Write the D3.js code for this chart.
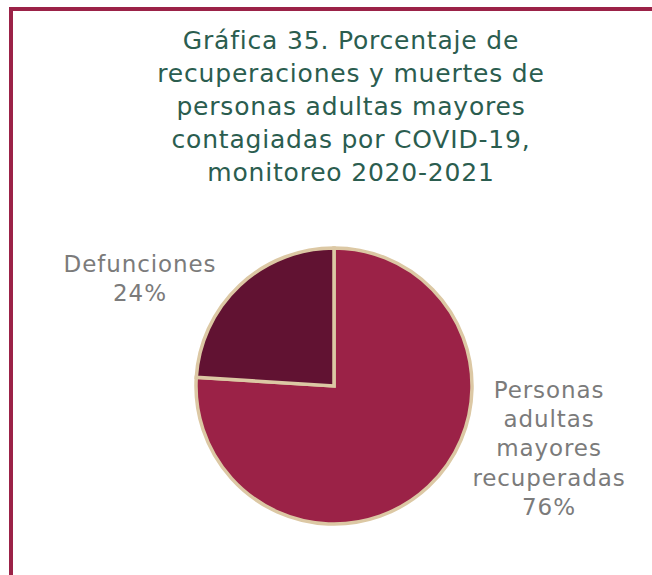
<!DOCTYPE html>
<html>
<head>
<meta charset="utf-8">
<script src="https://cdn.jsdelivr.net/npm/d3@7"></script>
<style>
  body { margin: 0; background: #fff; }
  svg text { font-family: "DejaVu Sans", sans-serif; }
</style>
</head>
<body>
<svg id="chart"></svg>
<script>
// chart data
const categories = ["Personas adultas mayores recuperadas", "Defunciones"];
const values = [76, 24];
const labelLines = [["Personas", "adultas", "mayores", "recuperadas", "76%"], ["Defunciones", "24%"]];
const titleLines = [
  "Gráfica 35. Porcentaje de",
  "recuperaciones y muertes de",
  "personas adultas mayores",
  "contagiadas por COVID-19,",
  "monitoreo 2020-2021"
];
const colors = ["#9b2247", "#611232"];

function drawChart() {
  const width = 652, height = 575;
  const svg = d3.select("#chart").attr("width", width).attr("height", height);

  // frame (only top and left visible)
  svg.append("rect")
    .attr("x", 11).attr("y", 9)
    .attr("width", 800).attr("height", 800)
    .attr("fill", "none")
    .attr("stroke", "#9b2247")
    .attr("stroke-width", 4);

  // title
  svg.append("g").selectAll("text")
    .data(titleLines)
    .enter()
    .append("text")
    .attr("x", 351)
    .attr("y", (d, i) => 49 + i * 33)
    .attr("text-anchor", "middle")
    .attr("fill", "#2b5d4f")
    .style("font-size", "25px")
    .style("letter-spacing", "0.8px")
    .text(d => d);

  // pie
  const cx = 334, cy = 386, r = 138;
  const pie = d3.pie().sort(null).value(d => d)(values);
  const arc = d3.arc().innerRadius(0).outerRadius(r);

  svg.append("g")
    .attr("transform", "translate(" + cx + "," + cy + ")")
    .selectAll("path")
    .data(pie)
    .enter()
    .append("path")
    .attr("d", arc)
    .attr("fill", (d, i) => colors[i])
    .attr("stroke", "#dcc8a4")
    .attr("stroke-width", 3.5)
    .attr("stroke-linejoin", "miter");

  // labels
  const labelPos = [[549, 398], [140, 272]];
  labelLines.forEach(function(lines, k) {
    svg.append("g").selectAll("text")
      .data(lines)
      .enter()
      .append("text")
      .attr("x", labelPos[k][0])
      .attr("y", (d, i) => labelPos[k][1] + i * 29.2)
      .attr("text-anchor", "middle")
      .attr("fill", "#7b7b7b")
      .style("font-size", "23px")
      .style("letter-spacing", "0.9px")
      .text(d => d);
  });
}

drawChart();
</script>
</body>
</html>
